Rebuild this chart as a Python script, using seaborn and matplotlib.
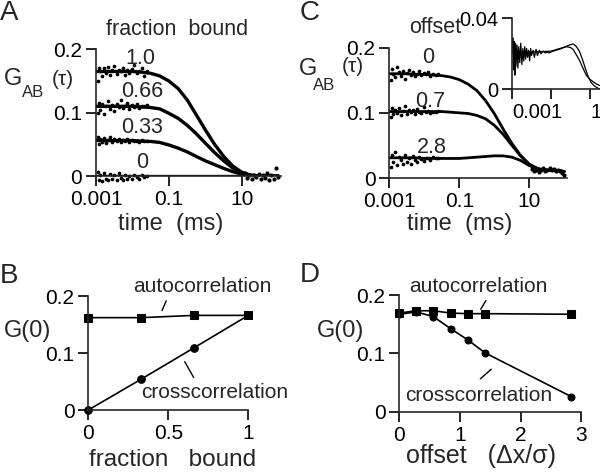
import numpy as np
import matplotlib
matplotlib.use("Agg")
import matplotlib.pyplot as plt
import seaborn as sns

sns.set_style("ticks")
plt.rcParams['font.family'] = ['Liberation Sans', 'DejaVu Sans']
plt.rcParams['axes.linewidth'] = 1.2

# ---- data ----
# fit time grid for panels A and C (ms)
t_fit = [0.001, 0.0018, 0.0032, 0.0056, 0.01, 0.018, 0.032, 0.056, 0.1, 0.18,
         0.32, 0.56, 1.0, 1.8, 3.2, 5.6, 10, 18, 32, 56, 100]

# panel A: fraction bound
a_fit_100 = [0.165, 0.165, 0.165, 0.165, 0.165, 0.164, 0.162, 0.158, 0.150, 0.138,
             0.120, 0.097, 0.073, 0.050, 0.031, 0.016, 0.006, 0.001, 0.0, 0.0, 0.0]
a_fit_066 = [0.110, 0.110, 0.110, 0.110, 0.110, 0.109, 0.108, 0.106, 0.099, 0.091,
             0.080, 0.067, 0.052, 0.037, 0.024, 0.013, 0.005, 0.001, 0.0, 0.0, 0.0]
a_fit_033 = [0.056, 0.056, 0.056, 0.056, 0.056, 0.055, 0.0545, 0.053, 0.049, 0.044,
             0.038, 0.031, 0.024, 0.018, 0.012, 0.007, 0.003, 0.001, 0.0, 0.0, 0.0]
a_fit_0 = [0.0, 0.0, 0.0, 0.0, 0.0, 0.0, 0.0, 0.0, 0.0, 0.0,
           0.0, 0.0, 0.0, 0.0, 0.0, 0.0, 0.0, 0.0, 0.0, 0.0, 0.0]

t_noise = [0.0011, 0.0012, 0.0013, 0.0015, 0.0017, 0.0019, 0.0022, 0.0025, 0.0028, 0.0032,
           0.0037, 0.0042, 0.0048, 0.0055, 0.0063, 0.0072, 0.0083, 0.0095, 0.011, 0.013,
           0.015, 0.018, 0.021, 0.025]
a_pts_100 = [0.150, 0.171, 0.166, 0.158, 0.170, 0.163, 0.172, 0.160, 0.168, 0.174, 0.161, 0.168,
             0.165, 0.171, 0.160, 0.167, 0.163, 0.169, 0.175, 0.162, 0.166, 0.170, 0.158, 0.166]
a_pts_066 = [0.100, 0.116, 0.104, 0.113, 0.098, 0.110, 0.118, 0.106, 0.112, 0.103, 0.114, 0.109,
             0.120, 0.107, 0.111, 0.115, 0.105, 0.112, 0.109, 0.113, 0.107, 0.111, 0.110, 0.112]
a_pts_033 = [0.062, 0.050, 0.058, 0.054, 0.060, 0.052, 0.057, 0.061, 0.053, 0.058, 0.055, 0.059,
             0.054, 0.057, 0.056, 0.058, 0.053, 0.057, 0.055, 0.056, 0.054, 0.057, 0.055, 0.056]
a_pts_0 = [0.006, -0.006, 0.002, -0.008, 0.004, -0.004, -0.007, 0.003, -0.005, 0.001, -0.006, 0.005,
           -0.003, -0.006, 0.002, -0.004, 0.000, -0.005, 0.002, -0.002, -0.004, 0.001, -0.002, 0.000]
t_tail = [12, 14, 16, 19, 22, 25, 29, 33, 38, 44, 50, 57, 65, 75, 86, 100]
a_pts_tail = [0.004, -0.003, 0.002, -0.004, 0.001, -0.002, 0.003, -0.005, 0.002, -0.003,
              0.004, -0.006, 0.001, -0.004, 0.012, -0.002]

# panel C: offset
c_fit_0 = [0.160, 0.160, 0.160, 0.159, 0.159, 0.158, 0.157, 0.155, 0.151, 0.144,
           0.134, 0.119, 0.099, 0.075, 0.053, 0.035, 0.021, 0.014, 0.012, 0.012, 0.010]
c_fit_07 = [0.102, 0.102, 0.102, 0.102, 0.102, 0.102, 0.102, 0.101, 0.100, 0.099,
            0.096, 0.091, 0.081, 0.067, 0.050, 0.034, 0.021, 0.014, 0.012, 0.012, 0.010]
c_fit_28 = [0.031, 0.031, 0.031, 0.031, 0.030, 0.030, 0.030, 0.030, 0.030, 0.031,
            0.032, 0.033, 0.034, 0.034, 0.032, 0.027, 0.019, 0.014, 0.012, 0.012, 0.010]
c_pts_0 = [0.150, 0.168, 0.160, 0.155, 0.170, 0.162, 0.157, 0.165, 0.152, 0.161, 0.166, 0.158,
           0.163, 0.156, 0.160, 0.164, 0.158, 0.161, 0.159, 0.162, 0.157, 0.160, 0.158, 0.160]
c_pts_07 = [0.094, 0.108, 0.098, 0.104, 0.100, 0.107, 0.096, 0.103, 0.110, 0.099, 0.105, 0.101,
            0.104, 0.098, 0.106, 0.102, 0.100, 0.109, 0.101, 0.103, 0.100, 0.102, 0.101, 0.103]
c_pts_28 = [0.017, 0.036, 0.024, 0.040, 0.020, 0.033, 0.027, 0.022, 0.035, 0.025, 0.030, 0.021,
            0.034, 0.028, 0.024, 0.032, 0.029, 0.026, 0.031, 0.030, 0.028, 0.032, 0.030, 0.031]
c_pts_tail = [0.014, 0.010, 0.013, 0.009, 0.012, 0.015, 0.011, 0.013, 0.016, 0.012,
              0.014, 0.010, 0.013, 0.011, 0.008, 0.004]

# inset of C
i_t = [0.0010, 0.0011, 0.0012, 0.0013, 0.0014, 0.0015, 0.0016, 0.0018, 0.0020, 0.0022,
       0.0025, 0.0028, 0.0032, 0.0036, 0.0040, 0.0045, 0.0050, 0.0056, 0.0063, 0.0071,
       0.0080, 0.0090, 0.010, 0.012, 0.014, 0.017, 0.020, 0.025, 0.030, 0.040,
       0.050, 0.065, 0.080, 0.10, 0.13, 0.18, 0.25, 0.35, 0.5, 0.7,
       1.0, 1.4, 2.0, 2.8, 4.0, 5.6, 8.0, 11, 16, 22, 32]
i_data = [0.021, 0.029, 0.011, 0.027, 0.008, 0.026, 0.013, 0.025, 0.012, 0.024,
          0.015, 0.026, 0.014, 0.023, 0.016, 0.024, 0.017, 0.023, 0.018, 0.022,
          0.016, 0.023, 0.019, 0.022, 0.018, 0.0225, 0.019, 0.022, 0.020, 0.0215,
          0.0205, 0.021, 0.0205, 0.021, 0.0215, 0.022, 0.0225, 0.023, 0.0238, 0.0245,
          0.0252, 0.0255, 0.0240, 0.0215, 0.017, 0.012, 0.007, 0.004, 0.002, 0.001, 0.0]
i_tf = [0.001, 0.01, 0.1, 0.2, 0.4, 0.63, 1.0, 1.4, 2.0, 2.8, 4.6, 6.3, 10, 21, 32]
i_fit = [0.021, 0.021, 0.0215, 0.0225, 0.0235, 0.024, 0.0235, 0.0222, 0.0193, 0.0165,
         0.0112, 0.008, 0.0055, 0.003, 0.002]

# panel B
b_frac = [0, 0.33, 0.66, 1.0]
b_auto = [0.162, 0.162, 0.166, 0.166]
b_cross = [0.0, 0.054, 0.109, 0.166]

# panel D
d_off = [0, 0.28, 0.56, 0.85, 1.13, 1.41, 2.83]
d_auto = [0.169, 0.173, 0.173, 0.169, 0.168, 0.168, 0.167]
d_cross = [0.167, 0.171, 0.163, 0.142, 0.123, 0.101, 0.026]

W, H = 600, 473
fig = plt.figure(figsize=(6, 4.73), dpi=100)


def box(l, t, r, b):
    return [l / W, 1 - b / H, (r - l) / W, (b - t) / H]


def ftxt(x, y, s, size, ha='center'):
    fig.text(x / W, 1 - y / H, s, fontsize=size, ha=ha, va='baseline')


def style(ax):
    sns.despine(ax=ax)
    ax.tick_params(direction='out', length=7, width=1.2, labelsize=15, pad=3,
                   which='major', colors='k')
    ax.tick_params(which='minor', length=0)


axA = fig.add_axes(box(96, 49.3, 281, 176))
axC = fig.add_axes(box(389.3, 47.7, 567, 178))
axB = fig.add_axes(box(88.3, 296, 248.3, 410))
axD = fig.add_axes(box(399.3, 295, 581.4, 411.7))
axI = fig.add_axes(box(512, 18.3, 600, 89.3))

# ---- A ----
axA.set_xscale('log')
for fit, pts in [(a_fit_100, a_pts_100), (a_fit_066, a_pts_066),
                 (a_fit_033, a_pts_033), (a_fit_0, a_pts_0)]:
    sns.lineplot(x=t_fit, y=fit, ax=axA, color='k', lw=2.4, sort=False, estimator=None)
    sns.scatterplot(x=t_noise, y=pts, ax=axA, color='k', s=7, linewidth=0, clip_on=False)
sns.scatterplot(x=t_tail, y=a_pts_tail, ax=axA, color='k', s=9, linewidth=0, clip_on=False)
axA.set_xlim(0.001, 120)
axA.set_ylim(0, 0.2)

# ---- C ----
axC.set_xscale('log')
for fit, pts in [(c_fit_0, c_pts_0), (c_fit_07, c_pts_07), (c_fit_28, c_pts_28)]:
    sns.lineplot(x=t_fit, y=fit, ax=axC, color='k', lw=2.0, sort=False, estimator=None)
    sns.scatterplot(x=t_noise, y=pts, ax=axC, color='k', s=7, linewidth=0, clip_on=False)
sns.scatterplot(x=t_tail, y=c_pts_tail, ax=axC, color='k', s=9, linewidth=0, clip_on=False)
axC.set_xlim(0.001, 120)
axC.set_ylim(0, 0.2)

# ---- inset ----
axI.set_xscale('log')
sns.lineplot(x=i_t, y=i_data, ax=axI, color='k', lw=0.9, sort=False, estimator=None)
sns.lineplot(x=i_tf, y=i_fit, ax=axI, color='k', lw=0.9, sort=False, estimator=None)
axI.set_xlim(0.001, 32)
axI.set_ylim(0, 0.04)

for ax in (axA, axC):
    ax.set_xticks([0.001, 0.1, 10])
    ax.set_xticklabels(['0.001', '0.1', '10'])
    ax.set_yticks([0, 0.1, 0.2])
    ax.set_yticklabels(['0', '0.1', '0.2'])
    style(ax)

axI.set_xticks([0.001, 0.1, 10])
axI.set_xticklabels(['0.001', '', '10'])
axI.set_yticks([0, 0.04])
axI.set_yticklabels(['0', '0.04'])
style(axI)
axI.tick_params(labelsize=14.5)
axI.patch.set_alpha(0)
for lab in axI.get_xticklabels():
    lab.set_horizontalalignment('left')

# ---- B ----
sns.lineplot(x=b_frac, y=b_auto, ax=axB, color='k', lw=1.2, marker='s', ms=5.5,
             mec='k', sort=False, estimator=None, clip_on=False)
sns.lineplot(x=b_frac, y=b_cross, ax=axB, color='k', lw=1.2, marker='o', ms=5.5,
             mec='k', sort=False, estimator=None, clip_on=False)
axB.set_xlim(0, 1)
axB.set_ylim(0, 0.2)
axB.set_xticks([0, 0.5, 1])
axB.set_xticklabels(['0', '0.5', '1'])
axB.set_yticks([0, 0.1, 0.2])
axB.set_yticklabels(['0', '0.1', '0.2'])
style(axB)
axB.text(0.714, 0.216, 'autocorrelation', fontsize=15, ha='center', va='center')
axB.text(0.79, 0.030, 'crosscorrelation', fontsize=15, ha='center', va='center')
axB.annotate('', xy=(0.454, 0.170), xytext=(0.494, 0.196),
             arrowprops=dict(arrowstyle='-', lw=1.0, color='k'))
axB.annotate('', xy=(0.594, 0.089), xytext=(0.667, 0.053),
             arrowprops=dict(arrowstyle='-', lw=1.0, color='k'))

# ---- D ----
sns.lineplot(x=d_off, y=d_auto, ax=axD, color='k', lw=1.2, marker='s', ms=5.5,
             mec='k', sort=False, estimator=None, clip_on=False)
sns.lineplot(x=d_off, y=d_cross, ax=axD, color='k', lw=1.2, marker='o', ms=5,
             mec='k', sort=False, estimator=None, clip_on=False)
axD.set_xlim(0, 3)
axD.set_ylim(0, 0.2)
axD.set_xticks([0, 1, 2, 3])
axD.set_yticks([0, 0.1, 0.2])
axD.set_yticklabels(['0', '0.1', '0.2'])
style(axD)
axD.text(1.307, 0.214, 'autocorrelation', fontsize=15, ha='center', va='center')
axD.text(1.312, 0.0286, 'crosscorrelation', fontsize=15, ha='center', va='center')
axD.annotate('', xy=(1.318, 0.1715), xytext=(1.45, 0.1945),
             arrowprops=dict(arrowstyle='-', lw=1.0, color='k'))
axD.annotate('', xy=(1.30, 0.053), xytext=(1.549, 0.076),
             arrowprops=dict(arrowstyle='-', lw=1.0, color='k'))

for ax in (axA, axB, axC, axD, axI):
    ax.set_xlabel('')
    ax.set_ylabel('')
    if ax.get_legend():
        ax.get_legend().remove()

# ---- text ----
ftxt(0, 20, 'A', 20, ha='left')
ftxt(300, 20, 'C', 20, ha='left')
ftxt(0, 283, 'B', 20, ha='left')
ftxt(300, 281.7, 'D', 20, ha='left')

ftxt(176.7, 35, 'fraction  bound', 15.5)
ftxt(435, 33.3, 'offset', 15.5)

ftxt(140, 64, '1.0', 15.5)
ftxt(141.7, 96.7, '0.66', 15.5)
ftxt(141.7, 132.7, '0.33', 15.5)
ftxt(141.7, 168.3, '0', 15.5)
ftxt(428, 63.3, '0', 15.5)
ftxt(430, 106.7, '0.7', 15.5)
ftxt(431.7, 153.3, '2.8', 15.5)

# G_AB(tau) labels
ftxt(4, 85, 'G', 17, ha='left')
ftxt(21.5, 96.7, 'AB', 12, ha='left')
ftxt(52, 85, '(τ)', 15, ha='left')
ftxt(299, 75, 'G', 17, ha='left')
ftxt(313, 90, 'AB', 12, ha='left')
ftxt(342, 72, '(τ)', 15, ha='left')

ftxt(4, 336.7, 'G(0)', 17, ha='left')
ftxt(317, 336.7, 'G(0)', 17, ha='left')

ftxt(171, 230, 'time  (ms)', 17)
ftxt(460, 230, 'time  (ms)', 17)
ftxt(172.5, 466, 'fraction   bound', 17.5)
ftxt(481, 463, 'offset   (Δx/σ)', 18)

fig.savefig('out.png', dpi=100)
